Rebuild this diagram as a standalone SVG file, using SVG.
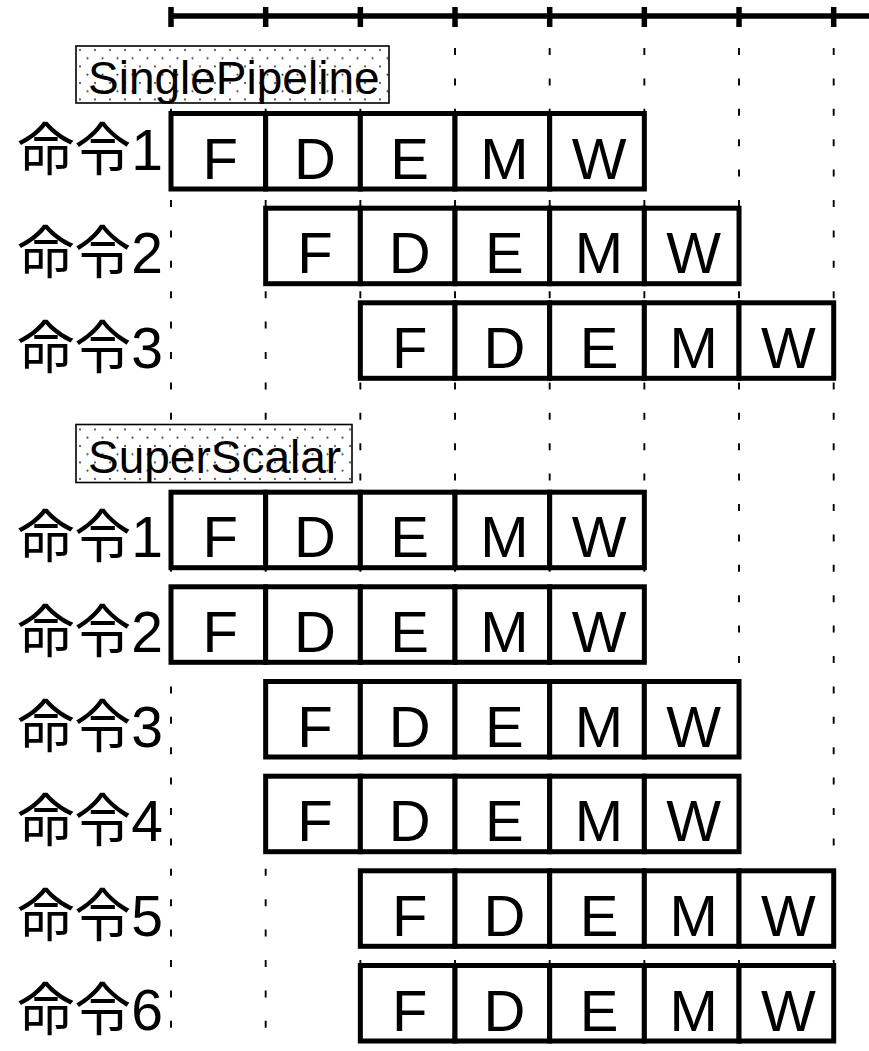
<svg xmlns="http://www.w3.org/2000/svg" width="869" height="1051" viewBox="0 0 869 1051">
<style>
.ax{stroke:#000;stroke-width:5.5;fill:none}
.grid{stroke:#000;stroke-width:1.9;stroke-dasharray:7 23.4;fill:none}
.cell{fill:#fff;stroke:#000;stroke-width:5}
.ct{font-family:"Liberation Sans",Arial,sans-serif;font-size:58px;text-anchor:middle;fill:#000}
.lbl{font-family:"Liberation Sans","Noto Sans CJK JP",sans-serif;font-size:57px;text-anchor:end;fill:#000}
.gbox{fill:url(#dots);stroke:#000;stroke-width:1.6}
.gt{font-family:"Liberation Sans",Arial,sans-serif;font-size:46px;fill:#000}
</style>
<defs>
<pattern id="dots" x="76" y="46" width="15" height="16.5" patternUnits="userSpaceOnUse">
<rect width="15" height="16.5" fill="#fff"/>
<circle cx="4" cy="4" r="1.1" fill="#444"/>
<circle cx="11.5" cy="12.25" r="1.1" fill="#444"/>
</pattern>
<g id="pipe">
<rect class="cell" x="0" y="0" width="94.67" height="75.5"/>
<rect class="cell" x="94.67" y="0" width="94.67" height="75.5"/>
<rect class="cell" x="189.34" y="0" width="94.67" height="75.5"/>
<rect class="cell" x="284.01" y="0" width="94.67" height="75.5"/>
<rect class="cell" x="378.68" y="0" width="94.67" height="75.5"/>
<text class="ct" x="49.3" y="65">F</text>
<text class="ct" x="144" y="65">D</text>
<text class="ct" x="238.7" y="65">E</text>
<text class="ct" x="333.3" y="65">M</text>
<text class="ct" x="428" y="65">W</text>
</g>
</defs>
<rect width="869" height="1051" fill="#fff"/>
<g id="axis">
<line class="ax" x1="171" y1="16" x2="869" y2="16"/>
<line class="ax" x1="171" y1="7" x2="171" y2="27"/>
<line class="ax" x1="265.67" y1="7" x2="265.67" y2="27"/>
<line class="ax" x1="360.34" y1="7" x2="360.34" y2="27"/>
<line class="ax" x1="455.01" y1="7" x2="455.01" y2="27"/>
<line class="ax" x1="549.68" y1="7" x2="549.68" y2="27"/>
<line class="ax" x1="644.35" y1="7" x2="644.35" y2="27"/>
<line class="ax" x1="739.02" y1="7" x2="739.02" y2="27"/>
<line class="ax" x1="833.69" y1="7" x2="833.69" y2="27"/>
</g>
<g id="connectors">
<line class="grid" x1="171" y1="48" x2="171" y2="1051"/>
<line class="grid" x1="265.67" y1="48" x2="265.67" y2="1051"/>
<line class="grid" x1="360.34" y1="48" x2="360.34" y2="1051"/>
<line class="grid" x1="455.01" y1="48" x2="455.01" y2="1051"/>
<line class="grid" x1="549.68" y1="48" x2="549.68" y2="1051"/>
<line class="grid" x1="644.35" y1="48" x2="644.35" y2="1051"/>
<line class="grid" x1="739.02" y1="48" x2="739.02" y2="1051"/>
<line class="grid" x1="833.69" y1="48" x2="833.69" y2="1051"/>
</g>
<g id="group-single">
<rect class="gbox" x="76" y="46" width="313" height="57"/>
<text class="gt" x="88" y="94">SinglePipeline</text>
</g>
<g id="single-1">
<text class="lbl" x="163" y="170">命令1</text>
<use href="#pipe" x="171" y="113.5"/>
</g>
<g id="single-2">
<text class="lbl" x="163" y="272.5">命令2</text>
<use href="#pipe" x="265.67" y="208.2"/>
</g>
<g id="single-3">
<text class="lbl" x="163" y="367.5">命令3</text>
<use href="#pipe" x="360.34" y="302.8"/>
</g>
<g id="group-super">
<rect class="gbox" x="76" y="424.5" width="276" height="58"/>
<text class="gt" x="88" y="473">SuperScalar</text>
</g>
<g id="super-1">
<text class="lbl" x="163" y="557">命令1</text>
<use href="#pipe" x="171" y="492.2"/>
</g>
<g id="super-2">
<text class="lbl" x="163" y="652">命令2</text>
<use href="#pipe" x="171" y="586.8"/>
</g>
<g id="super-3">
<text class="lbl" x="163" y="746.5">命令3</text>
<use href="#pipe" x="265.67" y="681.5"/>
</g>
<g id="super-4">
<text class="lbl" x="163" y="841">命令4</text>
<use href="#pipe" x="265.67" y="776.2"/>
</g>
<g id="super-5">
<text class="lbl" x="163" y="935.5">命令5</text>
<use href="#pipe" x="360.34" y="870.8"/>
</g>
<g id="super-6">
<text class="lbl" x="163" y="1030">命令6</text>
<use href="#pipe" x="360.34" y="965.5"/>
</g>
</svg>
